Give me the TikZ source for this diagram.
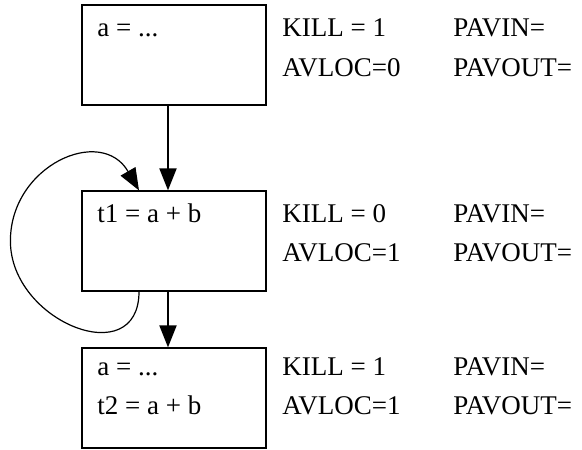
\documentclass[tikz,border=0pt]{standalone}
\usepackage{fontspec}
\setmainfont{Liberation Serif}
\usetikzlibrary{arrows.meta,positioning}

\begin{document}
\begin{tikzpicture}[
  x=0.5pt, y=-0.5pt,
  block/.style={draw, line width=0.6pt, minimum width=92pt, minimum height=50pt, inner sep=0pt},
  lbl/.style={anchor=base west, inner sep=0pt, font=\fontsize{13.5}{16}\selectfont},
  arr/.style={-{Triangle[length=11pt, width=8.5pt]}, line width=1pt},
  loop/.style={-{Triangle[length=11pt, width=8.5pt]}, line width=0.6pt},
]
  \useasboundingbox (0,0) rectangle (582,449);

  \node[block] (b1) at (174,55) {};
  \node[block] (b2) at (174,241) {};
  \node[block] (b3) at (174,398) {};

  \node[lbl] (c1) at (97,37) {a = ...};
  \node[lbl] (c2) at (97,222) {t1 = a + b};
  \node[lbl] (c3) at (97,375) {a = ...};
  \node[lbl] (c4) at (97,414) {t2 = a + b};

  \node[lbl] (kill1) at (282,37) {KILL = 1};
  \node[lbl] (avloc1) at (282,76) {AVLOC=0};
  \node[lbl] (pavin1) at (453,37) {PAVIN=};
  \node[lbl] (pavout1) at (453,76) {PAVOUT=};

  \node[lbl] (kill2) at (282,222) {KILL = 0};
  \node[lbl] (avloc2) at (282,261) {AVLOC=1};
  \node[lbl] (pavin2) at (453,222) {PAVIN=};
  \node[lbl] (pavout2) at (453,261) {PAVOUT=};

  \node[lbl] (kill3) at (282,375) {KILL = 1};
  \node[lbl] (avloc3) at (282,414) {AVLOC=1};
  \node[lbl] (pavin3) at (453,375) {PAVIN=};
  \node[lbl] (pavout3) at (453,414) {PAVOUT=};

  \coordinate (loopL) at ([xshift=-35.5pt]b2.west);

  \draw[arr] ([xshift=-3pt]b1.south) -- ([xshift=-3pt]b2.north);
  \draw[arr] ([xshift=-3pt]b2.south) -- ([xshift=-3pt]b3.north);
  \draw[loop] ([xshift=-17.5pt]b2.south) to[out=-90, in=-90, looseness=1.5] (loopL)
    to[out=90, in=120, looseness=1.4] ([xshift=-17.5pt]b2.north);
\end{tikzpicture}
\end{document}
